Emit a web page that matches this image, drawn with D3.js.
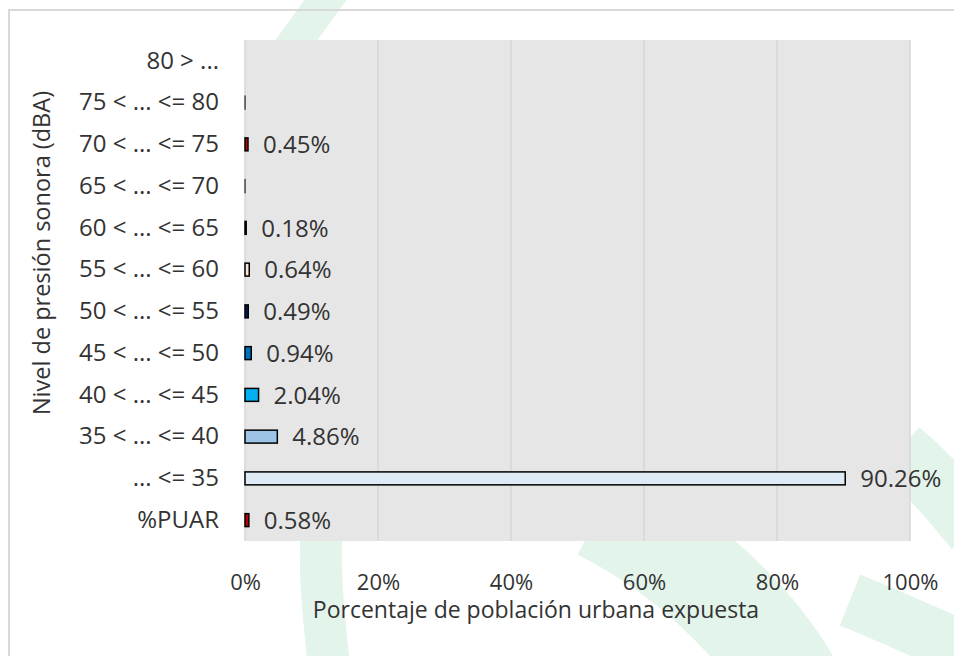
<!DOCTYPE html>
<html>
<head>
<meta charset="utf-8">
<script src="https://cdn.jsdelivr.net/npm/d3@7"></script>
<style>
  body { margin: 0; background: #fff; }
  svg { display: block; font-family: "Open Sans", sans-serif; }
</style>
</head>
<body>
<svg width="954" height="656"></svg>
<script>
// categories, top to bottom
var categories = ["80 > ...", "75 < ... <= 80", "70 < ... <= 75", "65 < ... <= 70",
  "60 < ... <= 65", "55 < ... <= 60", "50 < ... <= 55", "45 < ... <= 50",
  "40 < ... <= 45", "35 < ... <= 40", "... <= 35", "%PUAR"];
var values = [0, 0.0002, 0.0045, 0.0002, 0.0018, 0.0064, 0.0049, 0.0094, 0.0204, 0.0486, 0.9026, 0.0058];
var valueLabels = [null, null, "0.45%", null, "0.18%", "0.64%", "0.49%", "0.94%", "2.04%", "4.86%", "90.26%", "0.58%"];
var barColors = ["#7030a0", "#800000", "#c00000", "#ff6600", "#ffc000", "#fbe5d6",
  "#002060", "#0070c0", "#00b0f0", "#9dc3e6", "#deebf7", "#c00000"];
var xTicks = [0, 0.2, 0.4, 0.6, 0.8, 1];

var svg = d3.select("svg");
var textColor = "#333";

// faint logo in the background
var wm = svg.append("g").attr("fill", "none").attr("stroke", "#e3f4ea");
wm.append("path").attr("stroke-width", 34).attr("d", "M340,-20 L282,60");
wm.append("path").attr("stroke-width", 42).attr("d", "M322,520 C318,580 325,620 330,680");
wm.append("path").attr("stroke-width", 100).attr("d", "M600,510 C680,550 760,620 800,700");
wm.append("path").attr("stroke-width", 60).attr("d", "M900,450 C930,475 950,500 975,530");
wm.append("path").attr("stroke-width", 55).attr("d", "M850,600 C900,620 940,640 990,660");

// outer border
svg.append("path")
  .attr("d", "M9,660 L9,10 L960,10")
  .attr("fill", "none")
  .attr("stroke", "#d9d9d9")
  .attr("stroke-width", 2);

var x = d3.scaleLinear().domain([0, 1]).range([245, 910]);
var y = d3.scaleBand().domain(categories).range([40, 541]).paddingInner(0.69).paddingOuter(0.345);

// plot area
svg.append("rect")
  .attr("x", x(0)).attr("y", 40)
  .attr("width", x(1) - x(0)).attr("height", 501)
  .attr("fill", "#e6e6e6");

svg.append("g")
  .selectAll("line")
  .data(xTicks)
  .join("line")
  .attr("x1", function(d) { return x(d); })
  .attr("x2", function(d) { return x(d); })
  .attr("y1", 40).attr("y2", 541)
  .attr("stroke", "#d6d6d6")
  .attr("stroke-width", 1.5);

// bars
svg.append("g")
  .selectAll("rect")
  .data(categories.filter(function(c, i) { return values[i] > 0; }))
  .join("rect")
  .attr("x", x(0))
  .attr("y", function(c) { return y(c); })
  .attr("width", function(c) { return x(values[categories.indexOf(c)]) - x(0); })
  .attr("height", y.bandwidth())
  .attr("fill", function(c) { return barColors[categories.indexOf(c)]; })
  .attr("stroke", function(c) { return values[categories.indexOf(c)] < 0.001 ? "#555" : "#000"; })
  .attr("stroke-width", 1.5);

// value labels
svg.append("g")
  .selectAll("text")
  .data(categories.filter(function(c, i) { return valueLabels[i]; }))
  .join("text")
  .attr("x", function(c) { return x(values[categories.indexOf(c)]) + 15; })
  .attr("y", function(c) { return y(c) + y.bandwidth() / 2; })
  .attr("dy", "0.36em")
  .attr("font-size", 24)
  .attr("fill", textColor)
  .text(function(c) { return valueLabels[categories.indexOf(c)]; });

// axes
var yAxis = svg.append("g")
  .attr("transform", "translate(" + x(0) + ",0)")
  .call(d3.axisLeft(y).tickSize(0).tickPadding(26));
yAxis.select(".domain").remove();
yAxis.selectAll("text").attr("font-size", 24).attr("font-family", "Open Sans").attr("fill", textColor);

var xAxis = svg.append("g")
  .attr("transform", "translate(0,541)")
  .call(d3.axisBottom(x).tickValues(xTicks).tickFormat(d3.format(".0%")).tickSize(0).tickPadding(33));
xAxis.select(".domain").remove();
xAxis.selectAll("text").attr("font-size", 22).attr("font-family", "Open Sans").attr("fill", textColor);

svg.append("text")
  .attr("x", 536).attr("y", 618)
  .attr("text-anchor", "middle")
  .attr("font-size", 23)
  .attr("fill", textColor)
  .text("Porcentaje de población urbana expuesta");

svg.append("text")
  .attr("transform", "translate(50,253) rotate(-90)")
  .attr("text-anchor", "middle")
  .attr("font-size", 23.5)
  .attr("fill", textColor)
  .text("Nivel de presión sonora (dBA)");
</script>
</body>
</html>
